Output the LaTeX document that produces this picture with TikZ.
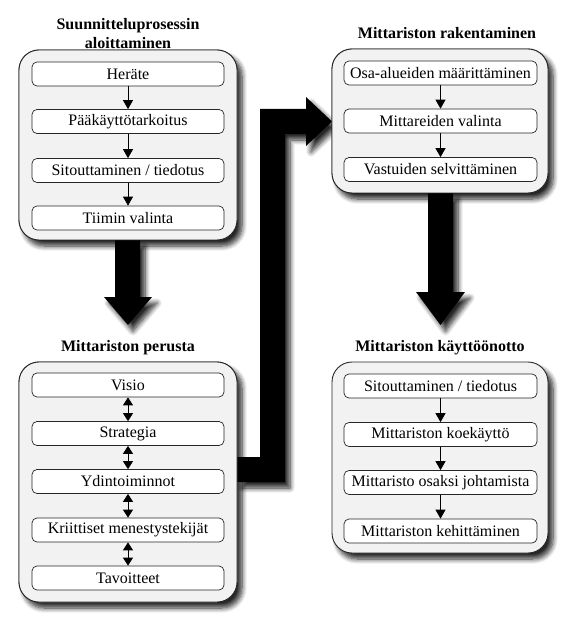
\documentclass[tikz,border=0pt]{standalone}
\usepackage{fontspec}
\setmainfont{Liberation Serif}
\usetikzlibrary{shadows.blur,arrows.meta}
\begin{document}
\begin{tikzpicture}[x=1pt,y=-1pt,
  shad/.style={blur shadow={shadow xshift=5pt,shadow yshift=-6pt,shadow blur steps=8,shadow opacity=85,shadow blur radius=5pt}},
  outerbox/.style={draw=black!85,line width=0.9pt,fill=black!5,rounded corners=20pt,inner sep=0pt,shad},
  plainbox/.style={draw=black!85,line width=0.9pt,fill=black!5,rounded corners=20pt,inner sep=0pt},
  item/.style={draw=black!85,line width=0.7pt,fill=white,rounded corners=5pt,minimum width=192pt,minimum height=24pt,inner sep=0pt,font=\fontsize{16}{18}\selectfont},
  ttl/.style={font=\fontsize{16}{19}\selectfont\bfseries,align=center,inner sep=0pt},
  sarrow/.style={draw=black,line width=0.8pt,-{Triangle[width=10pt,length=9pt,fill=black]}},
  darrow/.style={draw=black,line width=0.8pt,{Triangle[width=10pt,length=8pt,fill=black]}-{Triangle[width=10pt,length=8pt,fill=black]}},
  bigarrow/.style={fill=black,draw=none,shad}]
\useasboundingbox (0,0) rectangle (577,617);
% outer boxes
\node[outerbox,minimum width=218pt,minimum height=190pt] (b1) at (128,145) {};
\node[outerbox,minimum width=218pt,minimum height=240pt] (b2) at (128,482) {};
\node[outerbox,minimum width=216pt,minimum height=144pt] (b3) at (440,121) {};
\node[outerbox,minimum width=216pt,minimum height=191pt] (b4) at (440,457.5) {};
% titles
\node[ttl] (t1) at (128,33.5) {Suunnitteluprosessin\\aloittaminen};
\node[ttl] (t2) at (128,348) {Mittariston perusta};
\node[ttl] (t3) at (447,33) {Mittariston rakentaminen};
\node[ttl] (t4) at (440,348) {Mittariston käyttöönotto};
% big arrows
\fill[bigarrow] (115,240) -- (140,240) -- (140,297) -- (152,297) -- (128,325) -- (104,297) -- (115,297) -- cycle;
\fill[bigarrow] (428,193) -- (453,193) -- (453,292) -- (465,292) -- (440.5,325) -- (416,292) -- (428,292) -- cycle;
\fill[bigarrow] (237,457) -- (260,457) -- (260,109) -- (306,109) -- (306,97) -- (332,121.5) -- (306,146) -- (306,134) -- (285,134) -- (285,482) -- (237,482) -- cycle;
% redraw boxes over arrow roots
\node[plainbox,minimum width=218pt,minimum height=190pt] at (b1) {};
\node[plainbox,minimum width=218pt,minimum height=240pt] at (b2) {};
\node[plainbox,minimum width=216pt,minimum height=144pt] at (b3) {};
% box 1 items
\node[item] (a1) at (128,74) {Heräte};
\node[item] (a2) at (128,121.5) {Pääkäyttötarkoitus};
\node[item] (a3) at (128,170.5) {Sitouttaminen / tiedotus};
\node[item] (a4) at (128,218) {Tiimin valinta};
\draw[sarrow] (a1) -- (a2);
\draw[sarrow] (a2) -- (a3);
\draw[sarrow] (a3) -- (a4);
% box 2 items
\node[item] (p1) at (128,385) {Visio};
\node[item] (p2) at (128,433.5) {Strategia};
\node[item] (p3) at (128,481.5) {Ydintoiminnot};
\node[item] (p4) at (128,530) {Kriittiset menestystekijät};
\node[item] (p5) at (128,578) {Tavoitteet};
\draw[darrow] (p1) -- (p2);
\draw[darrow] (p2) -- (p3);
\draw[darrow] (p3) -- (p4);
\draw[darrow] (p4) -- (p5);
% box 3 items
\node[item,minimum width=193pt] (r1) at (440.5,73) {Osa-alueiden määrittäminen};
\node[item,minimum width=193pt] (r2) at (440.5,121) {Mittareiden valinta};
\node[item,minimum width=193pt] (r3) at (440.5,169.5) {Vastuiden selvittäminen};
\draw[sarrow] (r1) -- (r2);
\draw[sarrow] (r2) -- (r3);
% box 4 items
\node[item,minimum width=193pt] (k1) at (440.5,386) {Sitouttaminen / tiedotus};
\node[item,minimum width=193pt] (k2) at (440.5,434.5) {Mittariston koekäyttö};
\node[item,minimum width=193pt] (k3) at (440.5,482.5) {Mittaristo osaksi johtamista};
\node[item,minimum width=193pt] (k4) at (440.5,531) {Mittariston kehittäminen};
\draw[sarrow] (k1) -- (k2);
\draw[sarrow] (k2) -- (k3);
\draw[sarrow] (k3) -- (k4);
\end{tikzpicture}
\end{document}
